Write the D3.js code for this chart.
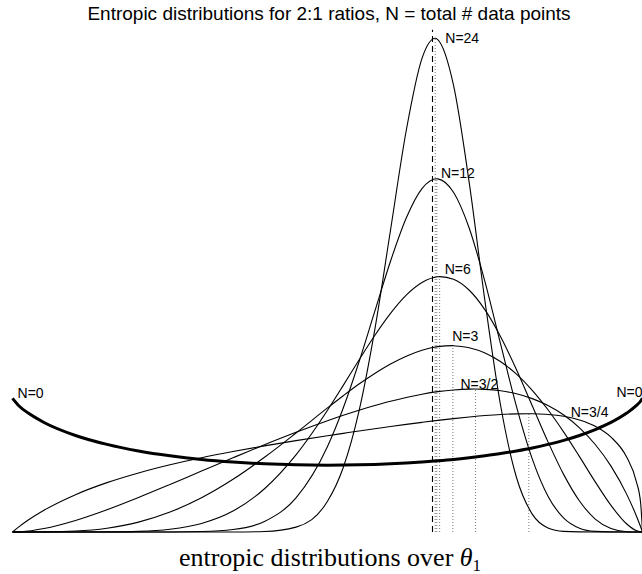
<!DOCTYPE html>
<html lang="en">
<head>
<meta charset="UTF-8">
<title>Entropic distributions for 2:1 ratios</title>
<style>
    body {
        margin: 0;
        background: #fff;
    }
    svg {
        display: block;
    }
    .title,
    .n-label {
        font-family: "Liberation Sans", Arial, Helvetica, sans-serif;
        font-size: 14px;
        fill: #000;
    }
    .title {
        font-size: 19px;
    }
    .x-label {
        font-family: "Liberation Serif", "Times New Roman", serif;
        font-size: 26px;
        fill: #000;
    }
    .curve {
        fill: none;
        stroke: #000;
        stroke-width: 1.1;
    }
    .curve.prior {
        stroke-width: 3;
    }
</style>
</head>
<body>
<svg id="chart"></svg>

<script src="https://d3js.org/d3.v7.min.js"></script>
<script>
    // theta_1 sample positions (shared by every curve)
    const theta = [0, 0.01, 0.025, 0.05, 0.1, 0.15, 0.2, 0.25, 0.3, 0.35, 0.4, 0.45, 0.5,
        0.525, 0.55, 0.575, 0.6, 0.625, 0.65, 0.675, 0.7, 0.725, 0.75, 0.775, 0.8,
        0.825, 0.85, 0.875, 0.9, 0.925, 0.95, 0.975, 0.99, 0.997, 1];

    const curveNames = ['N=24', 'N=12', 'N=6', 'N=3', 'N=3/2', 'N=3/4', 'N=0'];

    // density, one array per N
    const densN24 = [0, 0, 0, 0, 0, 0, 0, 0, 0, 0, 0.005, 0.057, 0.361,
        0.758, 1.420, 2.375, 3.545, 4.717, 5.564, 5.784, 5.249, 4.102, 2.710, 1.477, 0.640,
        0.210, 0.048, 0.007, 0.001, 0, 0, 0, 0, 0, 0];
    const densN12 = [0, 0, 0, 0, 0, 0, 0, 0, 0.005, 0.029, 0.124, 0.401, 1.005,
        1.457, 1.997, 2.591, 3.181, 3.689, 4.035, 4.149, 3.992, 3.569, 2.939, 2.201, 1.473,
        0.859, 0.420, 0.163, 0.045, 0.007, 0.001, 0, 0, 0, 0];
    const densN6 = [0, 0, 0, 0, 0, 0.001, 0.007, 0.032, 0.100, 0.246, 0.508, 0.906, 1.430,
        1.723, 2.021, 2.309, 2.569, 2.783, 2.931, 2.998, 2.969, 2.840, 2.610, 2.292, 1.906,
        1.483, 1.059, 0.674, 0.364, 0.152, 0.040, 0.003, 0, 0, 0];
    const densN3 = [0, 0, 0, 0.001, 0.011, 0.045, 0.116, 0.234, 0.402, 0.619, 0.878, 1.163, 1.458,
        1.601, 1.738, 1.863, 1.974, 2.066, 2.136, 2.178, 2.189, 2.165, 2.103, 2.000, 1.854,
        1.665, 1.436, 1.173, 0.885, 0.589, 0.312, 0.094, 0.017, 0.002, 0];
    const densN3h = [0, 0.002, 0.011, 0.041, 0.136, 0.262, 0.406, 0.559, 0.716, 0.872, 1.025, 1.171, 1.307,
        1.371, 1.431, 1.486, 1.537, 1.581, 1.619, 1.649, 1.669, 1.679, 1.676, 1.659, 1.624,
        1.567, 1.486, 1.374, 1.224, 1.028, 0.774, 0.442, 0.194, 0.061, 0];
    const densN3q = [0, 0.060, 0.141, 0.256, 0.439, 0.580, 0.694, 0.790, 0.872, 0.945, 1.012, 1.073, 1.131,
        1.159, 1.187, 1.213, 1.239, 1.264, 1.288, 1.311, 1.332, 1.351, 1.368, 1.381, 1.388,
        1.389, 1.381, 1.359, 1.316, 1.242, 1.115, 0.878, 0.599, 0.343, 0];
    const densN0 = [1.570, 1.484, 1.397, 1.287, 1.134, 1.029, 0.952, 0.895, 0.852, 0.822, 0.801, 0.789, 0.785,
        0.786, 0.789, 0.794, 0.801, 0.810, 0.822, 0.836, 0.852, 0.872, 0.895, 0.921, 0.952,
        0.987, 1.029, 1.077, 1.134, 1.203, 1.287, 1.397, 1.484, 1.538, 1.570];

    const densities = [densN24, densN12, densN6, densN3, densN3h, densN3q, densN0];

    // mode of each posterior (dotted markers), N=0 has none
    const modeTheta = [0.671, 0.6735, 0.678, 0.699, 0.735, 0.8195];
    const modePeak = [5.80, 4.15, 3.00, 2.19, 1.68, 1.39];

    // the 2:1 ratio itself
    const ratioTheta = 2 / 3;
    const ratioTop = 5.9;

    // where the N= labels sit (theta, density)
    const labelTheta = [0.687, 0.680, 0.686, 0.698, 0.711, 0.886, 1.0];
    const labelDens = [5.75, 4.16, 3.03, 2.24, 1.68, 1.35, 1.59];
    const leftLabel = { text: 'N=0', theta: 0.008, dens: 1.57 };

    const width = 642;
    const height = 574;

    const svg = d3.select('#chart')
        .attr('width', width)
        .attr('height', height);

    const x = d3.scaleLinear().domain([0, 1]).range([12.5, 642.5]);
    const y = d3.scaleLinear().domain([0, 6.25]).range([532, 0]);

    const line = d3.line()
        .x(d => x(d[0]))
        .y(d => y(d[1]))
        .curve(d3.curveMonotoneX);

    function curvePoints(i) {
        const pts = theta.map((t, j) => [t, densities[i][j]]);
        if (i < modeTheta.length) {
            pts.push([modeTheta[i], modePeak[i]]);
            pts.sort((a, b) => a[0] - b[0]);
        }
        return pts;
    }

    // dotted lines under each mode
    svg.append('g')
        .selectAll('line')
        .data(modeTheta)
        .enter().append('line')
        .attr('x1', d => x(d))
        .attr('x2', d => x(d))
        .attr('y1', y(0))
        .attr('y2', (d, i) => y(modePeak[i]))
        .attr('stroke', '#777')
        .attr('stroke-width', 1)
        .attr('stroke-dasharray', '1,2');

    // dashed line at theta = 2/3
    svg.append('line')
        .attr('x1', x(ratioTheta))
        .attr('x2', x(ratioTheta))
        .attr('y1', y(0))
        .attr('y2', y(ratioTop))
        .attr('stroke', '#000')
        .attr('stroke-width', 1.1)
        .attr('stroke-dasharray', '6,4');

    svg.append('g')
        .selectAll('path')
        .data(curveNames)
        .enter().append('path')
        .attr('class', d => d === 'N=0' ? 'curve prior' : 'curve')
        .attr('d', (d, i) => line(curvePoints(i)));

    svg.append('g')
        .selectAll('text')
        .data(curveNames)
        .enter().append('text')
        .attr('class', 'n-label')
        .attr('x', (d, i) => x(labelTheta[i]))
        .attr('y', (d, i) => y(labelDens[i]))
        .attr('text-anchor', d => d === 'N=0' ? 'end' : 'start')
        .text(d => d);

    svg.append('text')
        .attr('class', 'n-label')
        .attr('x', x(leftLabel.theta))
        .attr('y', y(leftLabel.dens))
        .text(leftLabel.text);

    svg.append('text')
        .attr('class', 'title')
        .attr('x', 329)
        .attr('y', 20)
        .attr('text-anchor', 'middle')
        .text('Entropic distributions for 2:1 ratios, N = total # data points');

    const xl = svg.append('text')
        .attr('class', 'x-label')
        .attr('x', 330)
        .attr('y', 566)
        .attr('text-anchor', 'middle');
    xl.append('tspan').text('entropic distributions over ');
    xl.append('tspan').attr('font-style', 'italic').text('θ');
    xl.append('tspan').attr('font-size', '17px').attr('dy', 5).text('1');
</script>
</body>
</html>
